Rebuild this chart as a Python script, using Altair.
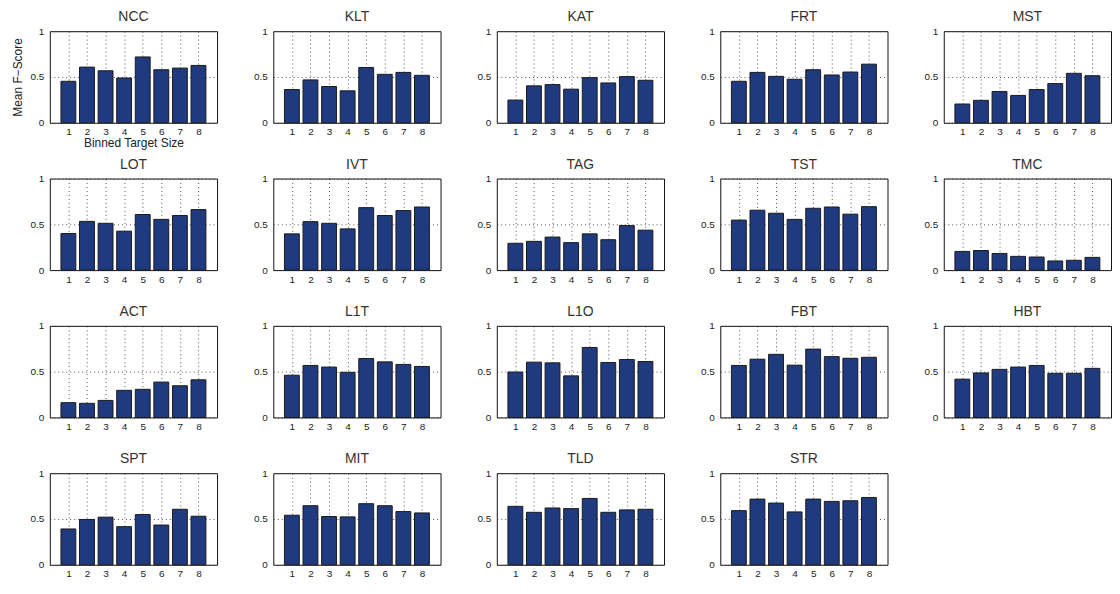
import altair as alt
import pandas as pd

trackers = ["NCC", "KLT", "KAT", "FRT", "MST",
            "LOT", "IVT", "TAG", "TST", "TMC",
            "ACT", "L1T", "L1O", "FBT", "HBT",
            "SPT", "MIT", "TLD", "STR"]
bins = [1, 2, 3, 4, 5, 6, 7, 8]

NCC = [0.453, 0.608, 0.568, 0.489, 0.719, 0.579, 0.597, 0.626]
KLT = [0.363, 0.468, 0.396, 0.349, 0.604, 0.529, 0.550, 0.518]
KAT = [0.248, 0.403, 0.417, 0.367, 0.493, 0.435, 0.504, 0.464]
FRT = [0.453, 0.550, 0.507, 0.475, 0.579, 0.522, 0.554, 0.640]
MST = [0.205, 0.245, 0.342, 0.299, 0.363, 0.428, 0.540, 0.514]
LOT = [0.400, 0.532, 0.511, 0.425, 0.607, 0.554, 0.596, 0.661]
IVT = [0.396, 0.529, 0.511, 0.450, 0.682, 0.596, 0.650, 0.689]
TAG = [0.293, 0.314, 0.361, 0.300, 0.396, 0.332, 0.486, 0.436]
TST = [0.546, 0.654, 0.621, 0.554, 0.675, 0.689, 0.611, 0.693]
TMC = [0.204, 0.214, 0.182, 0.150, 0.143, 0.100, 0.107, 0.139]
ACT = [0.161, 0.154, 0.186, 0.296, 0.307, 0.386, 0.346, 0.411]
L1T = [0.461, 0.568, 0.550, 0.493, 0.643, 0.607, 0.579, 0.557]
L1O = [0.496, 0.604, 0.596, 0.454, 0.764, 0.600, 0.632, 0.611]
FBT = [0.568, 0.636, 0.689, 0.571, 0.746, 0.664, 0.646, 0.657]
HBT = [0.418, 0.486, 0.525, 0.550, 0.568, 0.482, 0.482, 0.536]
SPT = [0.391, 0.495, 0.520, 0.416, 0.548, 0.434, 0.606, 0.530]
MIT = [0.541, 0.645, 0.527, 0.523, 0.667, 0.645, 0.581, 0.566]
TLD = [0.638, 0.573, 0.620, 0.613, 0.724, 0.573, 0.599, 0.606]
STR = [0.591, 0.717, 0.674, 0.577, 0.717, 0.692, 0.699, 0.735]

series = [NCC, KLT, KAT, FRT, MST, LOT, IVT, TAG, TST, TMC,
          ACT, L1T, L1O, FBT, HBT, SPT, MIT, TLD, STR]

FONT = "Liberation Sans"
W, H = 168, 92


def panel(name, vals, first):
    df = pd.DataFrame({"bin": bins, "score": vals})
    x_axis = alt.Axis(values=bins, grid=True, gridDash=[1, 3], gridColor="#333",
                      gridOpacity=0.85, ticks=False, domain=False, labelPadding=4,
                      labelFontSize=10, labelFont=FONT, labelColor="#222",
                      labelFlush=False,
                      title="Binned Target Size" if first else None,
                      titleFont=FONT, titleFontSize=12, titleFontWeight="normal",
                      titlePadding=1, titleColor="#222")
    y_axis = alt.Axis(values=[0, 0.5, 1], grid=True, gridDash=[1, 3], gridColor="#333",
                      gridOpacity=0.85, ticks=False, domain=False, labelPadding=6,
                      labelFontSize=10, labelFont=FONT, labelColor="#222",
                      labelFlush=False, format=".1~f",
                      title="Mean F\u2212Score" if first else None,
                      titleFont=FONT, titleFontSize=12, titleFontWeight="normal",
                      titlePadding=6, titleColor="#222")
    return (
        alt.Chart(df)
        .transform_calculate(x0="datum.bin - 0.4", x1="datum.bin + 0.4")
        .mark_bar(color="#1f3a7e", stroke="#1a1a1a", strokeWidth=1)
        .encode(
            x=alt.X("x0:Q", scale=alt.Scale(domain=[0, 9], nice=False, zero=False), axis=x_axis),
            x2="x1:Q",
            y=alt.Y("score:Q", scale=alt.Scale(domain=[0, 1], nice=False), axis=y_axis),
            y2=alt.datum(0),
        )
        .properties(width=W, height=H,
                    title=alt.TitleParams(name, font=FONT, fontSize=14, fontWeight="normal",
                                          color="#333", offset=2))
    )


panels = [panel(n, v, i == 0) for i, (n, v) in enumerate(zip(trackers, series))]

chart = (
    alt.concat(*panels, columns=5, spacing={"row": 56, "column": 56.5}, bounds="flush")
    .configure_view(stroke="#111", strokeWidth=1)
    .configure_title(fontWeight="normal")
    .properties(background="white",
                padding={"left": 2, "top": 0, "right": 0, "bottom": 0})
)

chart.save("out.html", embed_options={"renderer": "svg", "actions": False})
